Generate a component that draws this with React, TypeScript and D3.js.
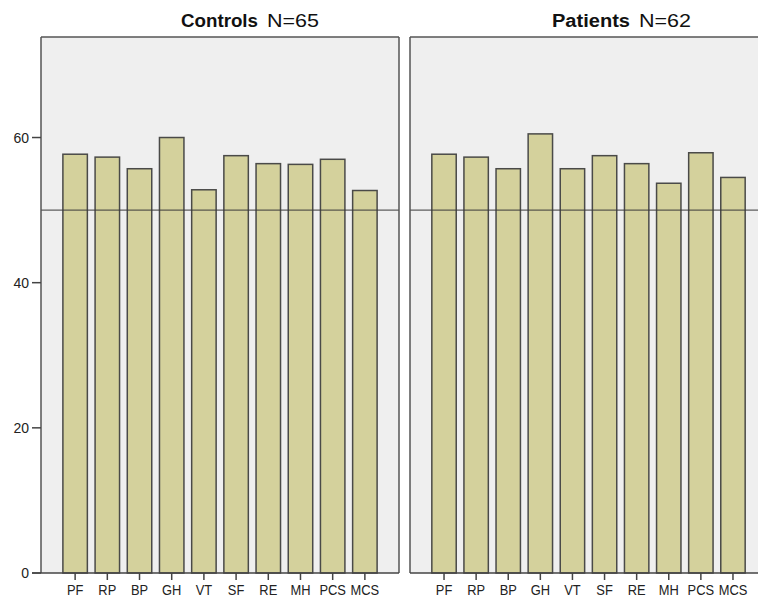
import React from "react";
import * as d3 from "d3";

const categories = ["PF", "RP", "BP", "GH", "VT", "SF", "RE", "MH", "PCS", "MCS"];
const controlsValues = [57.7, 57.3, 55.7, 60.0, 52.8, 57.5, 56.4, 56.3, 57.0, 52.7];
const patientsValues = [57.7, 57.3, 55.7, 60.5, 55.7, 57.5, 56.4, 53.7, 57.9, 54.5];
const yTicks = [0, 20, 40, 60];
const referenceValue = 50;
const yMax = 73.85;

const W = 758;
const H = 599;
const top = 37;
const bottom = 573;
const font = "'Liberation Sans', Arial, sans-serif";

const y = d3.scaleLinear().domain([0, yMax]).range([bottom, top]);

type PanelProps = {
  x0: number;
  x1: number;
  values: number[];
  title: string;
  titleX: number;
  titleW: number;
  nW: number;
  rightBorder: boolean;
  showYAxis: boolean;
};

function Panel({ x0, x1, values, title, titleX, titleW, nW, rightBorder, showYAxis }: PanelProps) {
  const x = d3.scaleBand<string>().domain(categories).range([x0, x1]).paddingInner(0.24).paddingOuter(0.68);
  const [bold, normal] = title.split("|");
  return (
    <g>
      <rect x={x0} y={top} width={x1 - x0} height={bottom - top} fill="#efefef" />
      {categories.map((c, i) => (
        <rect
          key={c}
          x={x(c)!}
          y={y(values[i])}
          width={x.bandwidth()}
          height={bottom - y(values[i])}
          fill="#d4d19c"
          stroke="#4a4a48"
          strokeWidth={1.5}
        />
      ))}
      <line x1={x0} x2={x1} y1={y(referenceValue)} y2={y(referenceValue)} stroke="#3a3a3a" strokeWidth={1} />
      {/* border */}
      <line x1={x0} x2={x1} y1={top} y2={top} stroke="#555" strokeWidth={1.5} />
      <line x1={x0} x2={x0} y1={top} y2={bottom} stroke="#555" strokeWidth={1.5} />
      {rightBorder && <line x1={x1} x2={x1} y1={top} y2={bottom} stroke="#555" strokeWidth={1.5} />}
      <line x1={showYAxis ? x0 - 9 : x0} x2={x1} y1={bottom} y2={bottom} stroke="#444" strokeWidth={1.5} />
      {showYAxis &&
        yTicks.map((t) => (
          <g key={t}>
            <line x1={x0 - 9} x2={x0} y1={y(t)} y2={y(t)} stroke="#444" strokeWidth={1.5} />
            <text x={x0 - 12} y={y(t) + 5} textAnchor="end" fontFamily={font} fontSize={14} fill="#222">
              {t}
            </text>
          </g>
        ))}
      {categories.map((c) => {
        const cx = x(c)! + x.bandwidth() / 2;
        return (
          <g key={c}>
            <line x1={cx} x2={cx} y1={bottom} y2={bottom + 7} stroke="#444" strokeWidth={1.5} />
            <text
              transform={`translate(${cx},${bottom + 22}) scale(0.86,1)`}
              textAnchor="middle"
              fontFamily={font}
              fontSize={15}
              fill="#222"
            >
              {c}
            </text>
          </g>
        );
      })}
      <text
        x={titleX}
        y={27}
        fontFamily={font}
        fontSize={18}
        fontWeight="bold"
        fill="#111"
        textLength={titleW}
        lengthAdjust="spacingAndGlyphs"
      >
        {bold}
      </text>
      <text
        x={titleX + titleW + 9}
        y={27}
        fontFamily={font}
        fontSize={19}
        fill="#111"
        textLength={nW}
        lengthAdjust="spacingAndGlyphs"
      >
        {normal}
      </text>
    </g>
  );
}

export default function App() {
  return (
    <svg width={W} height={H} style={{ position: "absolute", left: 0, top: 0, background: "#fff" }}>
      <Panel
        x0={41}
        x1={399}
        values={controlsValues}
        title="Controls|N=65"
        titleX={181}
        titleW={77}
        nW={52}
        rightBorder={true}
        showYAxis={true}
      />
      <Panel
        x0={410}
        x1={767}
        values={patientsValues}
        title="Patients|N=62"
        titleX={552}
        titleW={78}
        nW={52}
        rightBorder={false}
        showYAxis={false}
      />
    </svg>
  );
}
